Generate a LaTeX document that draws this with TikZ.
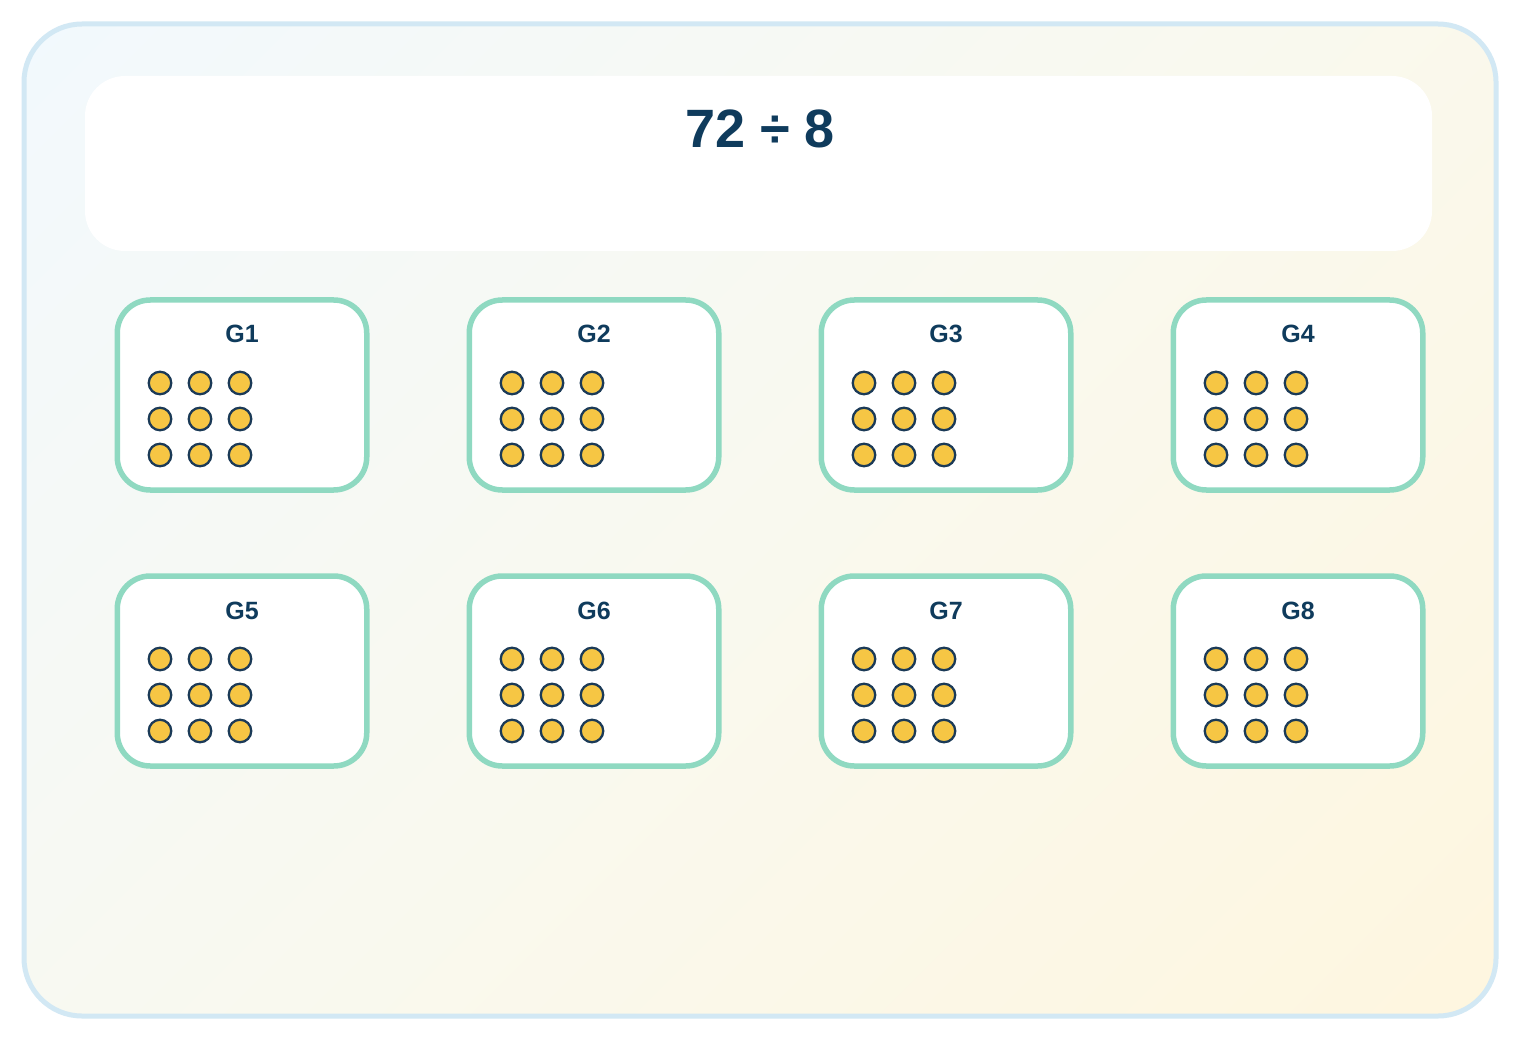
\documentclass[tikz,border=0pt]{standalone}
\usepackage{fontspec}
\setmainfont{Liberation Sans}
\definecolor{frameblue}{HTML}{D2E8F4}
\definecolor{bgA}{HTML}{F2F9FD}
\definecolor{bgM}{HTML}{F9F9EF}
\definecolor{bgB}{HTML}{FEF6DF}
\definecolor{boxgreen}{HTML}{8FD9C1}
\definecolor{navy}{HTML}{0F3B5C}
\definecolor{dotfill}{HTML}{F6C644}
\definecolor{dotline}{HTML}{1B3A57}
\pgfdeclarehorizontalshading{bgshade}{100bp}{color(0bp)=(bgA); color(14.64bp)=(bgA); color(50bp)=(bgM); color(85.36bp)=(bgB); color(100bp)=(bgB)}
\tikzset{
  groupbox/.style={draw=boxgreen, line width=5.5pt, fill=white, rounded corners=33pt, rectangle, minimum width=249.5pt, minimum height=190pt, inner sep=0pt},
  grouplabel/.style={text=navy, font=\fontsize{25}{29}\selectfont\bfseries, inner sep=0pt, anchor=base},
  dot/.style={circle, draw=dotline, fill=dotfill, line width=2.3pt, minimum size=22.5pt, inner sep=0pt},
  titletext/.style={text=navy, font=\fontsize{54}{60}\selectfont\bfseries, inner sep=0pt, anchor=base}
}
\begin{document}
\begin{tikzpicture}[x=1pt,y=-1pt]
\useasboundingbox (0,0) rectangle (1520,1040);
\fill[white] (0,0) rectangle (1520,1040);
\shade[shading=bgshade, shading angle=-45, rounded corners=58pt] (24,24) rectangle (1496,1016);
\draw[frameblue, line width=5pt, rounded corners=58pt] (24,24) rectangle (1496,1016);
\fill[white, rounded corners=40pt] (85,76) rectangle (1432,251);
\node[titletext] (title) at (760,147.5) {72 ÷ 8};
\foreach \r in {0,1}{
  \foreach \c in {0,1,2,3}{
    \pgfmathtruncatemacro{\g}{\r*4+\c+1}
    \pgfmathsetmacro{\xx}{115+352*\c}
    \pgfmathsetmacro{\yy}{299+276*\r}
    \node[groupbox, anchor=center] (box\g) at (\xx+127,\yy+96) {};
    \node[grouplabel] (lab\g) at (\xx+127,\yy+44) {G\g};
    \foreach \i in {0,1,2}{
      \foreach \j in {0,1,2}{
        \node[dot] (d\g-\i-\j) at (\xx+45+40*\j,\yy+84+36*\i) {};
      }
    }
  }
}
\end{tikzpicture}
\end{document}
